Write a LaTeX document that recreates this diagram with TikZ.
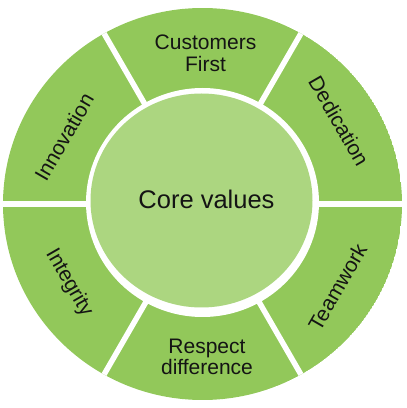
\documentclass[tikz,border=0pt]{standalone}
\usepackage{fontspec}
\setmainfont{Liberation Sans}
\definecolor{segfill}{RGB}{146,200,90}
\definecolor{corefill}{RGB}{172,214,128}
\definecolor{txt}{RGB}{20,20,20}
\begin{document}
\begin{tikzpicture}[x=1pt,y=1pt,
  segtext/.style={text=txt,font=\fontsize{21}{21.5}\selectfont,align=center,inner sep=0pt},
  coretext/.style={text=txt,font=\fontsize{25.5}{27}\selectfont,inner sep=0pt},
  gap/.style={white,line width=5.5pt}]
\useasboundingbox (0,0) rectangle (407,408);
\coordinate (c) at (202.5,204);
\begin{scope}
  \clip (c) ellipse [x radius=199.5, y radius=196];
  \fill[segfill] (c) ellipse [x radius=199.5, y radius=196];
  \foreach \a in {0,60,...,300} \draw[gap] (c) -- ++(\a:220);
\end{scope}
\fill[white] (202.5,205.5) ellipse [x radius=116.5, y radius=114.5];
\fill[corefill] (201.5,207.5) ellipse [x radius=111, y radius=107];
\node[coretext] (core) at (206.5,208.5) {Core values};
\node[segtext] (customers) at (205.5,354.5) {Customers\\First};
\node[segtext] (respect) at (207,51.3) {Respect\\difference};
\node[segtext,rotate=60] (innovation) at (64,271) {Innovation};
\node[segtext,rotate=-60] (dedication) at (339,287) {Dedication};
\node[segtext,rotate=-60] (integrity) at (69,125) {Integrity};
\node[segtext,rotate=60] (teamwork) at (337.5,121) {Teamwork};
\end{tikzpicture}
\end{document}
